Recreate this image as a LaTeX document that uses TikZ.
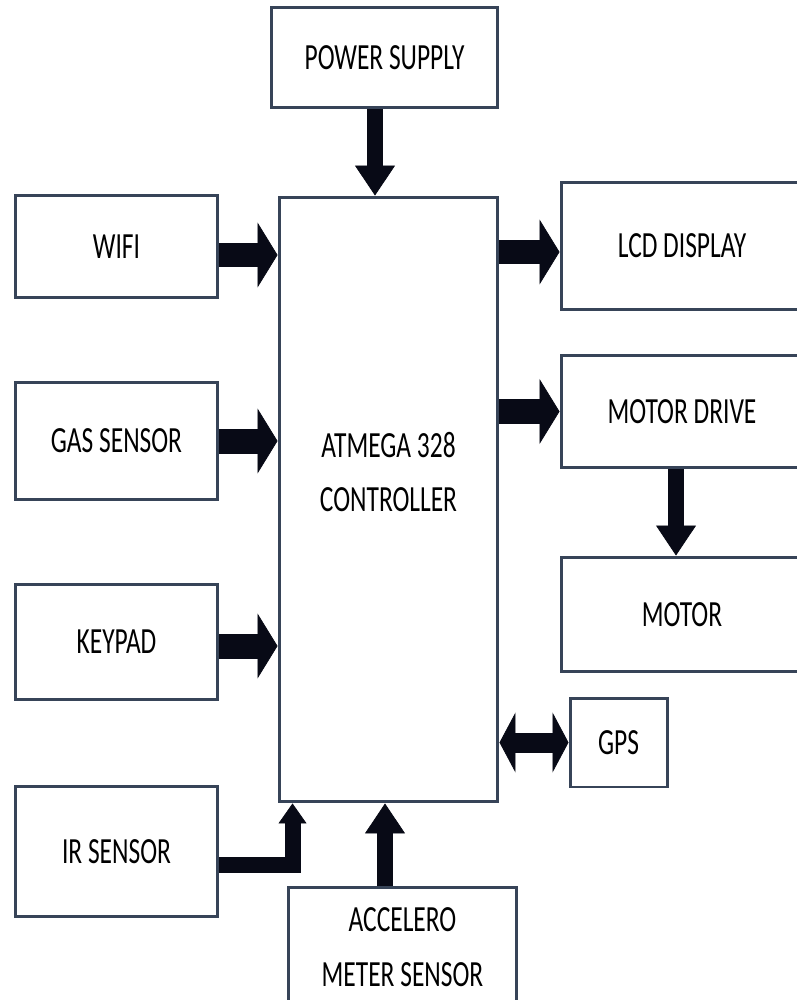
\documentclass[tikz,border=0pt]{standalone}
\usepackage{fontspec}
\setmainfont{Carlito}[FakeStretch=0.69]
\usetikzlibrary{arrows.meta}
\definecolor{boxline}{RGB}{55,68,88}
\definecolor{arrowcol}{RGB}{8,10,22}

\begin{document}
\begin{tikzpicture}[x = 0.02cm, y = -0.02cm,
    blk/.style = {draw = boxline, line width = 0.06cm, fill = white, inner sep = 0pt,
      align = center, font = \fontsize{21}{31}\selectfont},
    widearrow/.style = {draw = arrowcol, line width = 0.5cm,
      -{Triangle[length = 0.4cm, width = 1.3cm, line width = 0.4pt]}},
    narrowarrow/.style = {draw = arrowcol, line width = 0.32cm,
      -{Triangle[length = 0.6cm, width = 0.8cm, line width = 0.4pt]}},
    gpsarrow/.style = {draw = arrowcol, line width = 0.4cm,
      {Triangle[length = 0.32cm, width = 1.2cm, line width = 0.4pt]}-{Triangle[length = 0.32cm, width = 1.2cm, line width = 0.4pt]}},
    irarrow/.style = {draw = arrowcol, line width = 0.32cm, line join = miter,
      -{Triangle[length = 0.4cm, width = 0.56cm, line width = 0.4pt]}}]

    \useasboundingbox (0, 0) rectangle (797, 1000);
    \clip (0, 0) rectangle (797, 1000);
    \fill[white] (0, 0) rectangle (797, 1000);

    % controller and supply
    \node[blk, minimum width = 4.54cm, minimum height = 2.02cm] (power) at (384.5, 57.5) {POWER SUPPLY};
    \node[blk, minimum width = 4.38cm, minimum height = 12.1cm] (ctrl) at (388.5, 499.5) {};
    \node[align = center, font = \fontsize{21}{31}\selectfont] (ctrltext) at (388.5, 472) {ATMEGA 328\\CONTROLLER};

    % inputs
    \node[blk, minimum width = 4.06cm, minimum height = 2.06cm] (wifi) at (116.5, 246.5) {WIFI};
    \node[blk, minimum width = 4.06cm, minimum height = 2.36cm] (gas) at (116.5, 441) {GAS SENSOR};
    \node[blk, minimum width = 4.06cm, minimum height = 2.32cm] (keypad) at (116.5, 642) {KEYPAD};
    \node[blk, minimum width = 4.06cm, minimum height = 2.62cm] (ir) at (116.5, 851.5) {IR SENSOR};
    \node[blk, minimum width = 4.58cm, minimum height = 2.4cm] (accel) at (402.5, 947) {ACCELERO\\METER SENSOR};

    % outputs
    \node[blk, minimum width = 4.84cm, minimum height = 2.56cm] (lcd) at (682, 246) {LCD DISPLAY};
    \node[blk, minimum width = 4.84cm, minimum height = 2.26cm] (mdrive) at (682, 411.5) {MOTOR DRIVE};
    \node[blk, minimum width = 4.84cm, minimum height = 2.3cm] (motor) at (682, 614.5) {MOTOR};
    \node[blk, minimum width = 1.94cm, minimum height = 1.78cm] (gps) at (618.5, 742.5) {GPS};

    % arrows
    \draw[narrowarrow] ([xshift = -0.19cm]power.south) -- ([xshift = -0.19cm]power.south |- ctrl.north);
    \draw[widearrow] ([yshift = -0.17cm]wifi.east) -- ([yshift = -0.17cm]wifi.east -| ctrl.west);
    \draw[widearrow] (gas.east) -- (gas.east -| ctrl.west);
    \draw[widearrow] ([yshift = -0.08cm]keypad.east) -- ([yshift = -0.08cm]keypad.east -| ctrl.west);
    \draw[irarrow] ([yshift = -0.27cm]ir.east) -| ([xshift = 0.3cm]ctrl.south west);
    \draw[narrowarrow] ([xshift = -0.35cm]accel.north) -- ([xshift = -0.35cm]accel.north |- ctrl.south);

    \draw[widearrow] ([yshift = -0.12cm]lcd.west -| ctrl.east) -- ([yshift = -0.12cm]lcd.west);
    \draw[widearrow] (mdrive.west -| ctrl.east) -- (mdrive.west);
    \draw[narrowarrow] ([xshift = -0.12cm]mdrive.south) -- ([xshift = -0.12cm]motor.north);
    \draw[gpsarrow] (gps.west -| ctrl.east) -- (gps.west);

\end{tikzpicture}
\end{document}
